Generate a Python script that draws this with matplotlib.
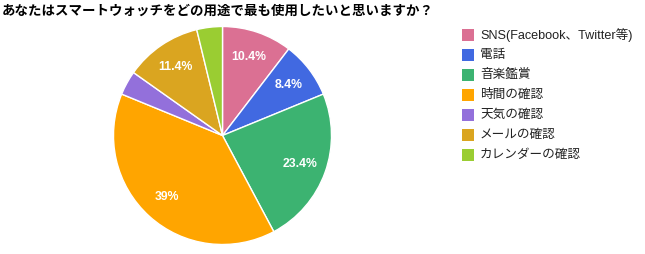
import matplotlib
matplotlib.use("Agg")
import matplotlib.pyplot as plt
from matplotlib.patches import Rectangle

plt.rcParams['font.family'] = ['Liberation Sans', 'Noto Sans CJK JP', 'DejaVu Sans']

# data
title = 'あなたはスマートウォッチをどの用途で最も使用したいと思いますか？'
labels = ['SNS(Facebook、Twitter等)', '電話', '音楽鑑賞', '時間の確認',
          '天気の確認', 'メールの確認', 'カレンダーの確認']
values = [10.4, 8.4, 23.4, 39.0, 3.6, 11.4, 3.8]
colors = ['#db7093', '#4169e1', '#3cb371', '#ffa500',
          '#9370db', '#daa520', '#9acd32']

W, H = 645, 254
fig = plt.figure(figsize=(W / 100, H / 100), dpi=100)

# pie axes: centre (223, 135), radius 110 px
cx, cy, r = 222.5, 135.5, 109
ax = fig.add_axes([(cx - r) / W, (H - cy - r) / H, 2 * r / W, 2 * r / H])


def fmt(p):
    if p < 5:
        return ''
    s = '%.1f' % p
    if s.endswith('.0'):
        s = s[:-2]
    return s + '%'


wedges, texts, autotexts = ax.pie(
    values, colors=colors, startangle=90, counterclock=False,
    autopct=fmt, pctdistance=0.76, radius=1.0,
    wedgeprops=dict(edgecolor='white', linewidth=1.0),
    textprops=dict(color='white', fontsize=8.8, fontweight='bold'))
ax.set_xlim(-1, 1)
ax.set_ylim(-1, 1)
ax.set_aspect('equal')
ax.axis('off')

fig.text(2 / W, 1 - 11 / H, title, fontsize=9.7, fontweight='bold',
         va='center', ha='left', family=['Noto Sans CJK JP', 'DejaVu Sans'])

# legend, drawn by hand to match spacing
x0, y0, step, sq = 462, 35.0, 20, 12
for i, (lab, col) in enumerate(zip(labels, colors)):
    yc = y0 + i * step
    fig.patches.append(Rectangle((x0 / W, 1 - (yc + sq / 2) / H), sq / W, sq / H,
                                 transform=fig.transFigure, facecolor=col,
                                 edgecolor='none'))
    fig.text((x0 + 18) / W, 1 - yc / H, lab, fontsize=9.1, va='center',
             ha='left', color='#222222')

fig.savefig('out.png', dpi=100)
